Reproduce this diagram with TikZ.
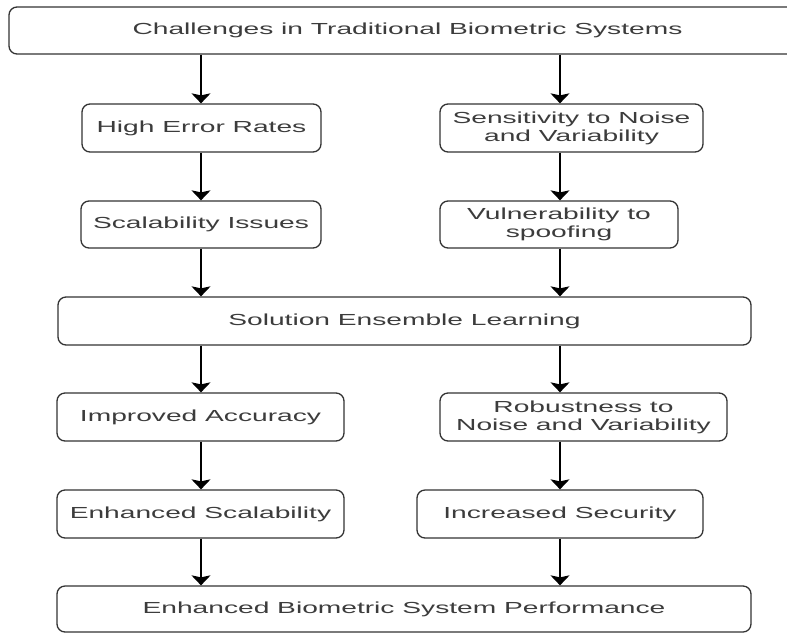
\documentclass[tikz,border=0pt]{standalone}
\usepackage{fontspec}
\setmainfont{Liberation Sans}[FakeStretch=1.76]
\usetikzlibrary{arrows.meta}
\definecolor{boxline}{HTML}{333333}
\definecolor{boxtext}{HTML}{3C3C3C}
\begin{document}
\begin{tikzpicture}[x=1pt,y=-1pt,
  box/.style={draw=boxline, line width=1.3pt, rounded corners=8pt, fill=white,
    inner sep=0pt, minimum height=48pt, align=center, text=boxtext,
    font=\fontsize{16}{18}\selectfont},
  arr/.style={draw=black, line width=1.6pt,
    -{Stealth[length=10pt,width=19pt,inset=2pt]}}]
\useasboundingbox (0,0) rectangle (787,633);
\clip (0,0) rectangle (787,633);
\fill[white] (0,0) rectangle (787,633);

% column positions of the connectors
\coordinate (L) at (201,0);
\coordinate (R) at (560,0);

% challenges
\node[box, minimum width=797pt, minimum height=47pt] (top) at (407.5,30.5)
  {Challenges in Traditional Biometric Systems};
\node[box, minimum width=239pt] (high) at (201.5,128) {High Error Rates};
\node[box, minimum width=263pt] (sens) at (571.5,128) {Sensitivity to Noise\\and Variability};
\node[box, minimum width=240pt, minimum height=47pt] (scal) at (201,224.5) {Scalability Issues};
\node[box, minimum width=238pt, minimum height=47pt] (vuln) at (559,224.5) {Vulnerability to\\spoofing};

% solution
\node[box, minimum width=693pt] (sol) at (404.5,321) {Solution Ensemble Learning};

% benefits
\node[box, minimum width=287pt] (acc) at (200.5,417) {Improved Accuracy};
\node[box, minimum width=287pt] (rob) at (583.5,417) {Robustness to\\Noise and Variability};
\node[box, minimum width=287pt] (escal) at (200.5,514) {Enhanced Scalability};
\node[box, minimum width=286pt] (sec) at (560,514) {Increased Security};
\node[box, minimum width=694pt, minimum height=46pt] (perf) at (404,609)
  {Enhanced Biometric System Performance};

% connectors, left column
\draw[arr] (top.south -| L) -- (high.north -| L);
\draw[arr] (high.south -| L) -- (scal.north -| L);
\draw[arr] (scal.south -| L) -- (sol.north -| L);
\draw[arr] (sol.south -| L) -- (acc.north -| L);
\draw[arr] (acc.south -| L) -- (escal.north -| L);
\draw[arr] (escal.south -| L) -- (perf.north -| L);

% connectors, right column
\draw[arr] (top.south -| R) -- (sens.north -| R);
\draw[arr] (sens.south -| R) -- (vuln.north -| R);
\draw[arr] (vuln.south -| R) -- (sol.north -| R);
\draw[arr] (sol.south -| R) -- (rob.north -| R);
\draw[arr] (rob.south -| R) -- (sec.north -| R);
\draw[arr] (sec.south -| R) -- (perf.north -| R);
\end{tikzpicture}
\end{document}
